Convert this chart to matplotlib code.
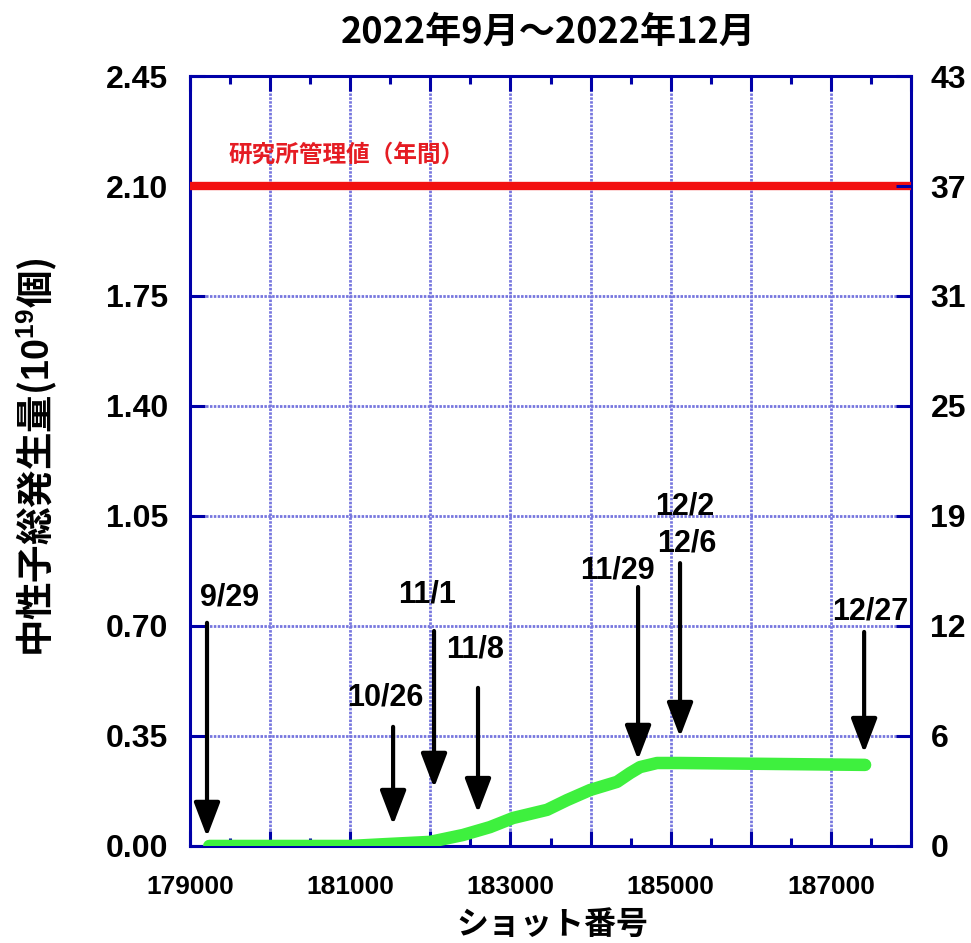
import numpy as np
import matplotlib
matplotlib.use('Agg')
import matplotlib.pyplot as plt
from matplotlib.ticker import FixedLocator

plt.rcParams['font.family'] = ['Liberation Sans', 'Noto Sans CJK JP', 'DejaVu Sans']
plt.rcParams['mathtext.fontset'] = 'custom'
plt.rcParams['mathtext.bf'] = 'Liberation Sans:bold'
plt.rcParams['mathtext.rm'] = 'Liberation Sans:bold'

JP = ['Noto Sans CJK JP', 'DejaVu Sans']

# 積算曲線 (ショット番号, 10^19個)
shot = [179240, 181000, 181372, 181996, 182408, 182745, 183032, 183457, 183707,
        183994, 184331, 184493, 184618, 184830, 185117, 187427]
total = [0.0, 0.0, 0.005, 0.013, 0.035, 0.060, 0.089, 0.115, 0.146,
         0.178, 0.204, 0.232, 0.251, 0.264, 0.264, 0.258]

limit_value = 2.10
limit_label = '研究所管理値（年間）'

# 矢印 (日付, x, 矢印の上端, 先端, ラベル位置)
dates = ['9/29', '10/26', '11/1', '11/8', '11/29', '12/6', '12/27']
arrow_x = [179212, 181535, 182046, 182595, 184593, 185117, 187415]
arrow_top = [0.71, 0.379, 0.684, 0.503, 0.824, 0.90, 0.681]
arrow_tip = [0.029, 0.067, 0.185, 0.105, 0.274, 0.347, 0.296]
label_x = [179490, 181434, 181960, 182558, 184330, 185205, 187490]
label_y = [0.792, 0.471, 0.799, 0.624, 0.878, 0.964, 0.745]
extra_label = '12/2'
extra_label_pos = (185180, 1.079)

yticks = [0.00, 0.35, 0.70, 1.05, 1.40, 1.75, 2.10, 2.45]
ylabels_left = ['0.00', '0.35', '0.70', '1.05', '1.40', '1.75', '2.10', '2.45']
ylabels_right = ['0', '6', '12', '19', '25', '31', '37', '43']
xticks = [179000, 180000, 181000, 182000, 183000, 184000, 185000, 186000, 187000, 188000]
xlabels = ['179000', '', '181000', '', '183000', '', '185000', '', '187000', '']

spine_c = '#0000a8'
grid_c = '#7676de'

fig = plt.figure(figsize=(9.71, 9.43), dpi=100)
ax = fig.add_axes([0.1957, 0.1029, 0.7425, 0.8165])
ax.set_xlim(179000, 188000)
ax.set_ylim(0, 2.45)

ax.set_xticks(xticks)
ax.set_xticklabels(xlabels)
ax.xaxis.set_minor_locator(FixedLocator([x + 500 for x in xticks[:-1]]))
ax.set_yticks(yticks)
ax.set_yticklabels(ylabels_left)

for s in ax.spines.values():
    s.set_color(spine_c)
    s.set_linewidth(2.2)

ax.grid(True, which='major', color=grid_c, linestyle=(0, (0.9, 0.5)), linewidth=2.0)
ax.set_axisbelow(True)

ax.tick_params(axis='x', which='major', direction='in', length=11, width=2.2,
               color=spine_c, top=True, labelsize=19, pad=21)
ax.tick_params(axis='x', which='minor', direction='in', length=6, width=2.2,
               color=spine_c, top=True)
ax.tick_params(axis='y', which='major', direction='in', length=11, width=2.2,
               color=spine_c, right=False, labelsize=23, pad=16)
for lab in ax.get_xticklabels() + ax.get_yticklabels():
    lab.set_fontweight('bold')

ax2 = ax.twinx()
ax2.set_ylim(0, 2.45)
ax2.set_yticks(yticks)
ax2.set_yticklabels(ylabels_right)
ax2.tick_params(axis='y', direction='in', length=11, width=2.2, color=spine_c,
                labelsize=23, pad=14)
for lab in ax2.get_yticklabels():
    lab.set_fontweight('bold')
for s in ax2.spines.values():
    s.set_visible(False)

# 管理値
ax.axhline(limit_value, color='#f21010', linewidth=6, zorder=3)
ax.text(179474, 2.20, limit_label, color='#e51c23', fontsize=17, family=JP,
        fontweight='bold', ha='left', va='center')

# 積算曲線
ax.plot(shot, total, color='#3ef03e', linewidth=9, solid_capstyle='round',
        solid_joinstyle='round', zorder=4)

# 矢印
for d, x, t0, t1, lx, ly in zip(dates, arrow_x, arrow_top, arrow_tip, label_x, label_y):
    ax.annotate('', xy=(x, t1), xytext=(x, t0),
                arrowprops=dict(arrowstyle='-|>,head_length=2.1,head_width=0.8',
                                color='black', lw=3, shrinkA=0, shrinkB=0,
                                mutation_scale=10), zorder=5)
    ax.text(lx, ly, d, fontsize=22, fontweight='bold', ha='center', va='center', zorder=6)
ax.text(extra_label_pos[0], extra_label_pos[1], extra_label, fontsize=22,
        fontweight='bold', ha='center', va='center', zorder=6)

ax.set_xlabel('ショット番号', family=JP, fontsize=23, fontweight='bold', va='center')
ax.xaxis.set_label_coords(0.503, -0.102)
ax.set_ylabel('中性子総発生量($\\mathbf{10^{19}}$個)', family=JP, fontsize=27,
              fontweight='bold', va='center')
ax.yaxis.set_label_coords(-0.211, 0.505)

fig.text(0.565, 1 - 32 / 943, '2022年9月～2022年12月', family=JP, fontsize=26,
         fontweight='bold', ha='center', va='center')

fig.savefig('out.png', dpi=100)
